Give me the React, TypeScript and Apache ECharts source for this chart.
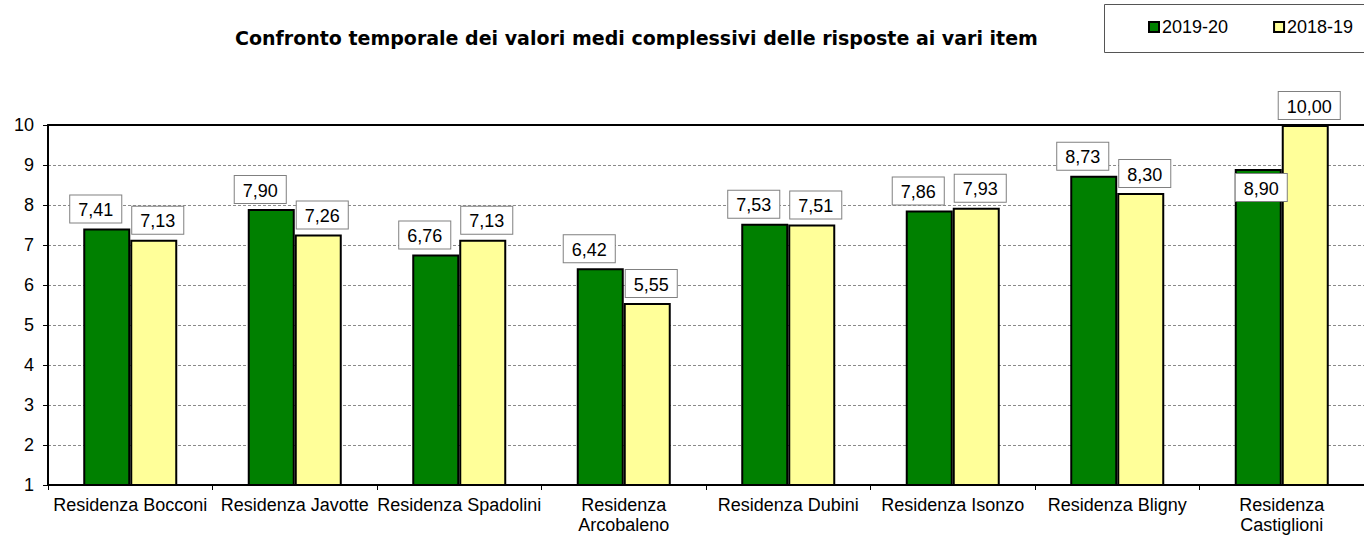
import React, { useEffect, useRef } from "react";
import * as echarts from "echarts";

const categories = [
  "Residenza Bocconi",
  "Residenza Javotte",
  "Residenza Spadolini",
  "Residenza\nArcobaleno",
  "Residenza Dubini",
  "Residenza Isonzo",
  "Residenza Bligny",
  "Residenza\nCastiglioni",
];
const series2019 = [7.41, 7.9, 6.76, 6.42, 7.53, 7.86, 8.73, 8.9];
const series2018 = [7.13, 7.26, 7.13, 5.55, 7.51, 7.93, 8.3, 10.0];
const seriesNames = ["2019-20", "2018-19"];
const titleText = "Confronto temporale dei valori medi complessivi delle risposte ai vari item";

const FONT = "'Liberation Sans', Arial, sans-serif";

const fmt = (p: any) => Number(p.value).toFixed(2).replace(".", ",");

const labelBase = {
  show: true,
  position: "top" as const,
  distance: 6,
  formatter: fmt,
  fontFamily: FONT,
  fontSize: 18,
  lineHeight: 19,
  color: "#000",
  backgroundColor: "#fff",
  borderColor: "#808080",
  borderWidth: 1,
  padding: [5, 8, 3, 8],
};

export default function App() {
  const ref = useRef<HTMLDivElement>(null);
  useEffect(() => {
    if (!ref.current) return;
    const chart = echarts.init(ref.current, null, { renderer: "svg" });
    const greenData = series2019.map((v, i) =>
      i === categories.length - 1
        ? { value: v, label: { position: "insideTop", distance: 5, offset: [3, 0] } }
        : v
    );
    chart.setOption({
      animation: false,
      backgroundColor: "#fff",
      title: {
        text: titleText,
        left: 230,
        top: 23,
        textStyle: {
          fontFamily: "'Comic Sans MS', 'DejaVu Sans', sans-serif",
          fontWeight: "bold",
          fontSize: 19,
          color: "#000",
        },
      },
      graphic: [
        {
          type: "polyline",
          shape: {
            points: [
              [1370, 4.5],
              [1104.5, 4.5],
              [1104.5, 52.5],
              [1370, 52.5],
            ],
          },
          style: { fill: "none", stroke: "#555", lineWidth: 1 },
          silent: true,
        },
      ],
      legend: {
        orient: "horizontal",
        left: 1104,
        top: 4,
        width: 320,
        padding: [14, 20, 14, 44],
        itemGap: 45,
        itemWidth: 10,
        itemHeight: 10,
        icon: "rect",
        textStyle: { fontFamily: FONT, fontSize: 18, color: "#000", padding: [0, 0, 0, -2] },
        data: seriesNames,
      },
      grid: { left: 48, right: -6, top: 125, bottom: 49 },
      xAxis: [
        {
          type: "category",
          data: categories,
          axisLine: { lineStyle: { color: "#000", width: 2 } },
          axisTick: { show: true, length: 5, lineStyle: { color: "#000", width: 1 } },
          axisLabel: {
            fontFamily: FONT,
            fontSize: 18,
            lineHeight: 20,
            color: "#000",
            margin: 10,
            interval: 0,
          },
        },
        {
          type: "category",
          data: categories,
          position: "top",
          axisLine: { show: true, lineStyle: { color: "#000", width: 2 } },
          axisTick: { show: false },
          axisLabel: { show: false },
        },
      ],
      yAxis: {
        type: "value",
        min: 1,
        max: 10,
        interval: 1,
        axisLine: { show: true, lineStyle: { color: "#000", width: 2 } },
        axisTick: { show: true, length: 5, lineStyle: { color: "#000", width: 1 } },
        axisLabel: { fontFamily: FONT, fontSize: 18, color: "#000", margin: 14 },
        splitLine: { show: true, lineStyle: { color: "#8a8a8a", width: 1, type: [3, 2] } },
      },
      series: [
        {
          name: seriesNames[0],
          type: "bar",
          data: greenData,
          barWidth: 47,
          barGap: "0%",
          itemStyle: { color: "#008000", borderColor: "#000", borderWidth: 2 },
          label: { ...labelBase, offset: [-11, 0] },
        },
        {
          name: seriesNames[1],
          type: "bar",
          data: series2018,
          barWidth: 47,
          barGap: "0%",
          itemStyle: { color: "#FFFF99", borderColor: "#000", borderWidth: 2 },
          label: { ...labelBase, offset: [4, 0] },
        },
      ],
    });
    return () => chart.dispose();
  }, []);
  return (
    <div
      ref={ref}
      style={{ position: "absolute", left: 0, top: 0, width: 1364, height: 535 }}
    />
  );
}
